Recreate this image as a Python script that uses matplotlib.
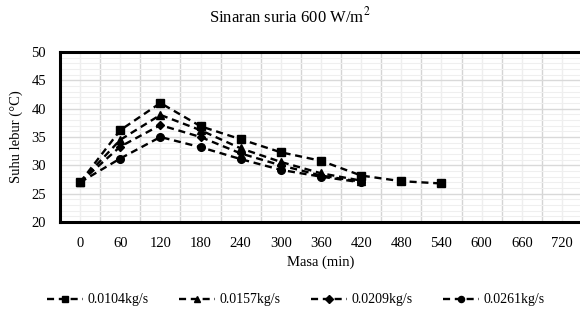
import matplotlib
matplotlib.use("Agg")
import matplotlib.pyplot as plt
from matplotlib.ticker import MultipleLocator
import numpy as np

plt.rcParams['font.family'] = ['Liberation Serif', 'DejaVu Serif']

masa = [0, 60, 120, 180, 240, 300, 360, 420, 480, 540]
s0104 = [27, 36.2, 41, 36.9, 34.6, 32.3, 30.8, 28.2, 27.2, 26.8]
s0157 = [27, 34.5, 38.9, 36.2, 33.0, 30.6, 28.6, 27.3]
s0209 = [27, 33.3, 37.1, 35.0, 32.1, 30.0, 28.2, 27.1]
s0261 = [27, 31.2, 35.0, 33.2, 31.1, 29.2, 28.0, 27.0]
labels = ['0.0104kg/s', '0.0157kg/s', '0.0209kg/s', '0.0261kg/s']
xticks = list(range(0, 721, 60))

fig = plt.figure(figsize=(5.8, 3.14), dpi=100)
ax = fig.add_axes([60/580, 92/314, 522/580, 170/314])

series = [s0104, s0157, s0209, s0261]
markers = ['s', '^', 'D', 'o']
msizes = [6, 6, 4.5, 5.5]
for ys, lab, mk, ms in zip(series, labels, markers, msizes):
    ax.plot(masa[:len(ys)], ys, linestyle=(0, (3, 2)), color='black', lw=1.7,
            marker=mk, markersize=ms, label=lab, zorder=3)

ax.set_xlim(-30, 750)
ax.set_ylim(20, 50)
ax.set_xticks(xticks)
ax.set_yticks(range(20, 51, 5))
ax.tick_params(axis='both', length=0, labelsize=10.5)
ax.tick_params(axis='x', pad=11)
ax.tick_params(axis='y', pad=10)

# grid: boundaries between categories and light lines at the centres
ax.set_xticks(np.arange(-30, 751, 60), minor=True)
ax.yaxis.set_minor_locator(MultipleLocator(1))
ax.grid(True, which='minor', axis='x', color='#d4d4d4', lw=1.0)
ax.grid(True, which='major', axis='x', color='#eeeeee', lw=1.0)
ax.grid(True, which='major', axis='y', color='#d9d9d9', lw=1.0)
ax.grid(True, which='minor', axis='y', color='#efefef', lw=0.8)
ax.tick_params(which='minor', length=0)
ax.set_axisbelow(True)

for sp in ['left', 'top', 'bottom']:
    ax.spines[sp].set_linewidth(2.2)
ax.spines['right'].set_visible(False)

ax.set_xlabel('Masa (min)', fontsize=10.5, labelpad=4)
fig.text(16/580, 1 - 137/314, 'Suhu lebur (°C)', rotation=90, fontsize=10.5,
         ha='center', va='center')
fig.text(0.5, 1 - 16/314, 'Sinaran suria 600 W/m$^{2}$', fontsize=12,
         ha='center', va='center', math_fontfamily='stix')

fig.legend(loc='center', bbox_to_anchor=(0.51, 1 - 300/314), ncol=4,
           frameon=False, fontsize=10, handlelength=2.6, columnspacing=2.2,
           handletextpad=0.3, markerscale=0.8)

fig.savefig('out.png', dpi=100)
